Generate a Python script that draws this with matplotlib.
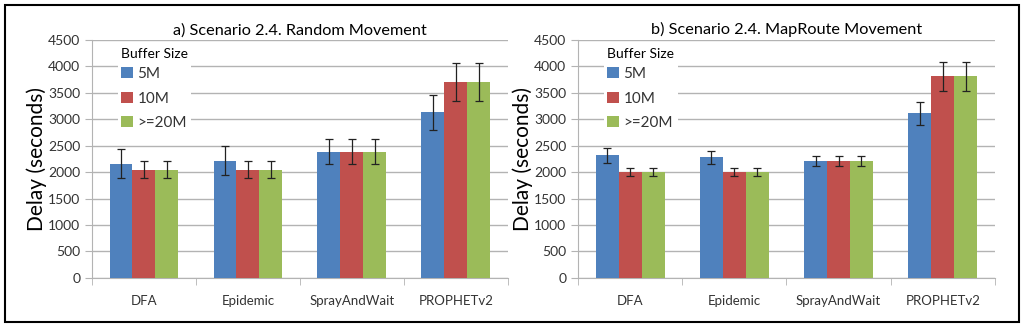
import numpy as np
import matplotlib
matplotlib.use("Agg")
import matplotlib.pyplot as plt
from matplotlib.patches import Rectangle

# ---------------- data ----------------
protocols = ["DFA", "Epidemic", "SprayAndWait", "PROPHETv2"]
buffers = ["5M", "10M", ">=20M"]
colors = ["#4F81BD", "#C0504D", "#9BBB59"]

titles = ["a) Scenario 2.4. Random Movement", "b) Scenario 2.4. MapRoute Movement"]

# Random movement: mean delay and error per buffer size
random_mean = {
    "5M":    [2160, 2220, 2385, 3130],
    "10M":   [2050, 2050, 2385, 3700],
    ">=20M": [2050, 2050, 2385, 3700],
}
random_err = {
    "5M":    [270, 265, 235, 325],
    "10M":   [160, 160, 235, 355],
    ">=20M": [160, 160, 235, 355],
}

# MapRoute movement
maproute_mean = {
    "5M":    [2315, 2280, 2210, 3110],
    "10M":   [2005, 2005, 2210, 3810],
    ">=20M": [2005, 2005, 2210, 3810],
}
maproute_err = {
    "5M":    [140, 125, 90, 210],
    "10M":   [80, 80, 90, 280],
    ">=20M": [80, 80, 90, 280],
}

yticks = [0, 500, 1000, 1500, 2000, 2500, 3000, 3500, 4000, 4500]
# --------------------------------------

plt.rcParams["font.family"] = ["Lato", "DejaVu Sans"]
grid_color = "#B3B3B3"


def draw_panel(ax, means, errs, title):
    x = np.arange(len(protocols))
    width = 0.22
    for i, b in enumerate(buffers):
        ax.bar(x + (i - 1) * width, means[b], width, color=colors[i], label=b,
               yerr=errs[b], capsize=3,
               error_kw=dict(ecolor="#222222", elinewidth=0.9, capthick=0.9),
               zorder=3)

    ax.set_xlim(-0.5, len(protocols) - 0.5)
    ax.set_ylim(0, 4500)
    ax.set_yticks(yticks)
    ax.yaxis.grid(True, color=grid_color, linewidth=1.0, zorder=0)
    ax.set_axisbelow(True)

    ax.set_xticks(x)
    ax.set_xticklabels(protocols, fontsize=9.5, color="#333333")
    ax.set_xticks(np.arange(len(protocols) + 1) - 0.5, minor=True)
    ax.tick_params(axis="x", which="major", length=0, pad=12)
    ax.tick_params(axis="x", which="minor", length=5, color=grid_color)
    ax.tick_params(axis="y", length=5, color=grid_color, labelsize=10, labelcolor="#333333")

    for s in ["top", "right"]:
        ax.spines[s].set_visible(False)
    for s in ["left", "bottom"]:
        ax.spines[s].set_color(grid_color)

    ax.set_ylabel("Delay (seconds)", fontsize=15, labelpad=1)
    ax.set_title(title, fontsize=11.7, pad=4)

    leg = ax.legend(title="Buffer Size", loc="upper left", bbox_to_anchor=(0.045, 1.01),
                    fontsize=11, title_fontsize=10, frameon=True, fancybox=False,
                    edgecolor="none", facecolor="white", framealpha=1,
                    handlelength=0.75, handleheight=0.75, handletextpad=0.3,
                    labelspacing=0.68, borderpad=0.2)
    leg._legend_box.align = "left"
    leg._legend_box.sep = 5
    for t in leg.get_texts():
        t.set_color("#333333")


fig = plt.figure(figsize=(10.24, 3.27), dpi=100)
ax1 = fig.add_axes([0.0898, 0.150, 0.406, 0.728])
ax2 = fig.add_axes([0.5645, 0.150, 0.407, 0.728])

draw_panel(ax1, random_mean, random_err, titles[0])
draw_panel(ax2, maproute_mean, maproute_err, titles[1])

# outer frame around the whole figure
fig.patches.append(Rectangle((5 / 1024, 5 / 327), 1014 / 1024, 317 / 327,
                             transform=fig.transFigure, fill=False,
                             edgecolor="black", linewidth=1.5))

fig.savefig("out.png", dpi=100)
